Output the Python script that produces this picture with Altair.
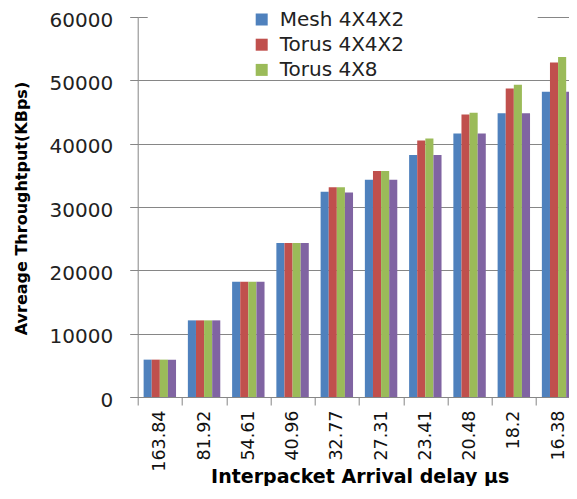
import altair as alt
import pandas as pd

delays = ["163.84", "81.92", "54.61", "40.96", "32.77", "27.31", "23.41", "20.48", "18.2", "16.38"]
series = ["Mesh 4X4X2", "Torus 4X4X2", "Torus 4X8", "Mesh 4X8"]
colors = ["#4F81BD", "#C0504D", "#9BBB59", "#8064A2"]

mesh_4x4x2 = [5900, 12100, 18200, 24300, 32400, 34300, 38200, 41600, 44800, 48200]
torus_4x4x2 = [5900, 12100, 18200, 24300, 33100, 35700, 40500, 44600, 48700, 52800]
torus_4x8 = [5900, 12100, 18200, 24300, 33100, 35700, 40800, 44900, 49300, 53700]
mesh_4x8 = [5900, 12100, 18200, 24300, 32300, 34300, 38200, 41600, 44800, 48200]

y_ticks = [0, 10000, 20000, 30000, 40000, 50000, 60000]

rows = []
for name, vals in zip(series, [mesh_4x4x2, torus_4x4x2, torus_4x8, mesh_4x8]):
    for d, v in zip(delays, vals):
        rows.append({"delay": d, "series": name, "value": v})
df = pd.DataFrame(rows)

FONT = "DejaVu Sans"
GRAY = "#868686"

bars = alt.Chart(df).mark_bar().encode(
    x=alt.X(
        "delay:N",
        sort=delays,
        scale=alt.Scale(paddingInner=0, paddingOuter=0),
        axis=alt.Axis(
            title="Interpacket Arrival delay µs",
            tickBand="extent",
            labelAngle=270,
            labelFont=FONT,
            labelFontSize=17.5,
            labelColor="#111111",
            labelPadding=5,
            tickSize=8,
            tickColor=GRAY,
            domainColor=GRAY,
            titleFont=FONT,
            titleFontSize=19,
            titleFontWeight="bold",
            titleColor="#000000",
            titleBaseline="alphabetic",
            titleAlign="center",
            titleX=222,
            titleY=85,
            grid=False,
        ),
    ),
    xOffset=alt.XOffset(
        "series:N",
        sort=series,
        scale=alt.Scale(paddingOuter=0.73, paddingInner=0),
    ),
    y=alt.Y(
        "value:Q",
        scale=alt.Scale(domain=[0, 60000], nice=False),
        axis=alt.Axis(
            title="Avreage Throughtput(KBps)",
            values=y_ticks,
            format="d",
            labelFont=FONT,
            labelFontSize=20,
            labelColor="#222222",
            labelPadding=17,
            labelOffset=3,
            tickSize=8,
            tickColor=GRAY,
            domainColor=GRAY,
            gridColor=GRAY,
            gridWidth=1,
            titleFont=FONT,
            titleFontSize=16,
            titleFontWeight="bold",
            titleColor="#000000",
            titleAngle=270,
            titleAlign="center",
            titleBaseline="middle",
            titleX=-116,
            titleY=191,
        ),
    ),
    color=alt.Color(
        "series:N",
        sort=series,
        scale=alt.Scale(domain=series, range=colors),
        legend=alt.Legend(
            title=None,
            values=series[:3],
            orient="none",
            legendX=114,
            legendY=-7.5,
            symbolType="square",
            symbolSize=144,
            symbolStrokeWidth=0,
            symbolOpacity=1,
            labelFont=FONT,
            labelFontSize=20,
            labelColor="#222222",
            labelOffset=8,
            rowPadding=5.2,
            padding=0,
        ),
    ),
)

cover = alt.Chart(pd.DataFrame({"k": [0]})).mark_rect(color="white").encode(
    x=alt.value(10),
    x2=alt.value(400),
    y=alt.value(-8),
    y2=alt.value(54),
)

chart = alt.layer(cover, bars).properties(
    width=442.5,
    height=380,
    padding={"left": 129.7, "top": 9, "right": -11.2, "bottom": 89},
    autosize=alt.AutoSizeParams(type="none"),
).configure_view(stroke=None)

chart.save("out.html", embed_options={"renderer": "svg", "actions": False})
